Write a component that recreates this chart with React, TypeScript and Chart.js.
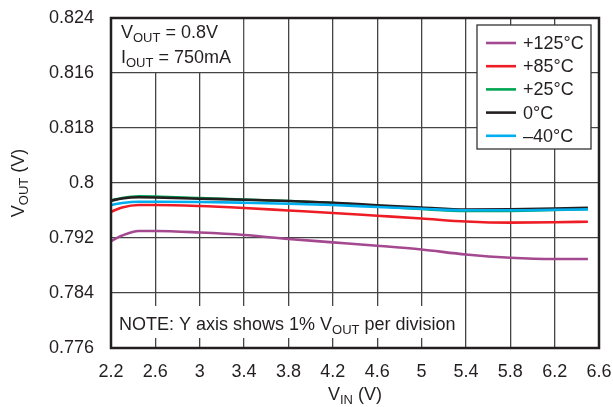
import React, { useEffect, useRef } from "react";
import { Chart, registerables } from "chart.js";

Chart.register(...registerables);

// ---------- data ----------
const vin = [2.2, 2.3, 2.45, 2.6, 3.0, 3.4, 3.8, 4.2, 4.6, 5.0, 5.4, 5.8, 6.2, 6.5];

const vout125 = [0.79156, 0.79236, 0.79302, 0.79302, 0.7928, 0.79244, 0.79185, 0.79137, 0.79088, 0.79033, 0.7896, 0.78913, 0.78895, 0.78895];
const vout85 = [0.79583, 0.79644, 0.7968, 0.7968, 0.79665, 0.79636, 0.796, 0.79564, 0.79524, 0.79484, 0.7944, 0.79423, 0.79428, 0.79437];
const vout25 = [0.79745, 0.79782, 0.79807, 0.79804, 0.79782, 0.7976, 0.79738, 0.7971, 0.79665, 0.79622, 0.79593, 0.79593, 0.79607, 0.79622];
const vout0 = [0.79743, 0.79775, 0.79792, 0.79789, 0.79772, 0.79757, 0.79738, 0.79713, 0.79676, 0.79644, 0.79615, 0.79618, 0.79629, 0.79641];
const voutM40 = [0.7968, 0.79709, 0.79728, 0.79728, 0.79724, 0.79713, 0.79699, 0.7968, 0.79651, 0.79626, 0.79603, 0.79603, 0.79612, 0.79617];

const seriesNames = ["+125°C", "+85°C", "+25°C", "0°C", "\u201340°C"];
const seriesColors = ["#A4488F", "#EE1D25", "#00A551", "#231F20", "#00AEEF"];
const seriesValues = [vout125, vout85, vout25, vout0, voutM40];
const seriesDrawOrder = [4, 3, 2, 1, 0];

const xTickValues = [2.2, 2.6, 3.0, 3.4, 3.8, 4.2, 4.6, 5.0, 5.4, 5.8, 6.2, 6.6];
const xTickLabels = ["2.2", "2.6", "3", "3.4", "3.8", "4.2", "4.6", "5", "5.4", "5.8", "6.2", "6.6"];
const yTickValues = [0.776, 0.784, 0.792, 0.8, 0.808, 0.816, 0.824];
const yTickLabels = ["0.776", "0.784", "0.792", "0.8", "0.818", "0.816", "0.824"];

const FONT = '"Liberation Sans", Arial, Helvetica, sans-serif';
const TEXT_COLOR = "#231F20";
const FS = 18;
const SUB = 13;

type Seg = { t: string; sub?: boolean };

function segWidth(ctx: CanvasRenderingContext2D, segs: Seg[], size: number, subSize: number) {
  let w = 0;
  for (const s of segs) {
    ctx.font = `${s.sub ? subSize : size}px ${FONT}`;
    w += ctx.measureText(s.t).width;
  }
  return w;
}

function drawSegs(ctx: CanvasRenderingContext2D, segs: Seg[], x: number, y: number, size: number, subSize: number, subShift: number) {
  let cx = x;
  ctx.textBaseline = "alphabetic";
  ctx.textAlign = "left";
  for (const s of segs) {
    ctx.font = `${s.sub ? subSize : size}px ${FONT}`;
    ctx.fillText(s.t, cx, s.sub ? y + subShift : y);
    cx += ctx.measureText(s.t).width;
  }
}

const decorPlugin = {
  id: "decor",
  beforeDatasetsDraw(chart: any) {
    const { ctx, chartArea: a, scales } = chart;
    const xs = scales.x;
    const ys = scales.y;
    ctx.save();
    ctx.fillStyle = "#ffffff";
    // top-left annotation box
    {
      const x0 = xs.getPixelForValue(xTickValues[0]);
      const x1 = xs.getPixelForValue(xTickValues[3]);
      const y0 = ys.getPixelForValue(yTickValues[6]);
      const y1 = ys.getPixelForValue(yTickValues[5]);
      ctx.fillRect(x0 + 1, y0 + 1, x1 - x0 - 2, y1 - y0 - 2);
    }
    // note box (leaves short stubs of the grid lines)
    {
      const x0 = xs.getPixelForValue(xTickValues[0]);
      const x1 = xs.getPixelForValue(xTickValues[8]);
      const y0 = ys.getPixelForValue(yTickValues[1]);
      const y1 = ys.getPixelForValue(yTickValues[0]);
      ctx.fillRect(x0 + 1, y0 + 13, x1 - x0 - 2, y1 - y0 - 23);
    }
    // legend box
    const lw = 114, lh = 124;
    const lx = a.right - 8 - lw;
    const ly = a.top + 7;
    ctx.fillRect(lx, ly, lw, lh);
    ctx.strokeStyle = "#333";
    ctx.lineWidth = 1.3;
    ctx.strokeRect(lx, ly, lw, lh);
    ctx.restore();
  },
  afterDatasetsDraw(chart: any) {
    const { ctx, chartArea: a } = chart;
    ctx.save();
    ctx.fillStyle = TEXT_COLOR;

    // annotation text
    const ax = a.left + 10;
    drawSegs(ctx, [{ t: "V" }, { t: "OUT", sub: true }, { t: " = 0.8V" }], ax, a.top + 20, FS, SUB, 4);
    drawSegs(ctx, [{ t: "I" }, { t: "OUT", sub: true }, { t: " = 750mA" }], ax, a.top + 45, FS, SUB, 4);

    // note text
    drawSegs(
      ctx,
      [{ t: "NOTE: Y axis shows 1% V" }, { t: "OUT", sub: true }, { t: " per division" }],
      a.left + 8,
      a.bottom - 18,
      FS,
      SUB,
      4
    );

    // legend entries
    const lw = 114;
    const lx = a.right - 8 - lw;
    const ly = a.top + 7;
    for (let i = 0; i < seriesNames.length; i++) {
      const cy = ly + 18 + i * 23.2;
      ctx.strokeStyle = seriesColors[i];
      ctx.lineWidth = 2.6;
      ctx.beginPath();
      ctx.moveTo(lx + 9, cy);
      ctx.lineTo(lx + 39, cy);
      ctx.stroke();
      ctx.font = `${FS}px ${FONT}`;
      ctx.textBaseline = "middle";
      ctx.textAlign = "left";
      ctx.fillText(seriesNames[i], lx + 46, cy + 1);
    }

    // frame
    ctx.strokeStyle = "#231F20";
    ctx.lineWidth = 2.5;
    ctx.strokeRect(a.left, a.top, a.right - a.left, a.bottom - a.top);

    // axis titles
    const xt: Seg[] = [{ t: "V" }, { t: "IN", sub: true }, { t: " (V)" }];
    const xw = segWidth(ctx, xt, FS, SUB);
    drawSegs(ctx, xt, (a.left + a.right) / 2 - xw / 2, 400, FS, SUB, 4);

    const yt: Seg[] = [{ t: "V" }, { t: "OUT", sub: true }, { t: " (V)" }];
    const yw = segWidth(ctx, yt, FS, SUB);
    ctx.translate(24, (a.top + a.bottom) / 2);
    ctx.rotate(-Math.PI / 2);
    drawSegs(ctx, yt, -yw / 2, 0, FS, SUB, 4);
    ctx.restore();
  },
};

export default function App() {
  const ref = useRef<HTMLCanvasElement | null>(null);

  useEffect(() => {
    if (!ref.current) return;
    const datasets = seriesNames.map((name, i) => ({
      label: name,
      data: vin.map((x, j) => ({ x, y: seriesValues[i][j] })),
      borderColor: seriesColors[i],
      backgroundColor: seriesColors[i],
      borderWidth: 2.6,
      pointRadius: 0,
      cubicInterpolationMode: "monotone" as const,
      order: seriesDrawOrder[i],
    }));

    const chart = new Chart(ref.current, {
      type: "line",
      data: { datasets },
      options: {
        responsive: false,
        animation: false,
        layout: { padding: { top: 18, right: 14, left: 0, bottom: 0 } },
        plugins: { legend: { display: false }, tooltip: { enabled: false } },
        scales: {
          x: {
            type: "linear",
            min: 2.2,
            max: 6.6,
            afterBuildTicks: (s: any) => {
              s.ticks = xTickValues.map((v) => ({ value: v }));
            },
            afterFit: (s: any) => {
              s.height = 59;
              s.paddingLeft = 0;
              s.paddingRight = 0;
            },
            ticks: {
              callback: (_v: any, i: number) => xTickLabels[i],
              font: { size: FS, family: FONT },
              color: TEXT_COLOR,
              padding: 13,
              maxRotation: 0,
              autoSkip: false,
            },
            grid: { color: "#444", lineWidth: 1.3, drawTicks: false },
            border: { display: false },
          },
          y: {
            type: "linear",
            min: 0.776,
            max: 0.824,
            afterBuildTicks: (s: any) => {
              s.ticks = yTickValues.map((v) => ({ value: v }));
            },
            afterFit: (s: any) => {
              s.width = 111;
              s.paddingTop = 0;
              s.paddingBottom = 0;
            },
            ticks: {
              callback: (_v: any, i: number) => yTickLabels[i],
              font: { size: FS, family: FONT },
              color: TEXT_COLOR,
              padding: 17,
              autoSkip: false,
            },
            grid: { color: "#444", lineWidth: 1.3, drawTicks: false },
            border: { display: false },
          },
        },
      },
      plugins: [decorPlugin],
    });
    return () => chart.destroy();
  }, []);

  return (
    <div style={{ position: "fixed", left: 0, top: 0, width: 613, height: 407, background: "#fff" }}>
      <canvas ref={ref} width={613} height={407} style={{ width: 613, height: 407, display: "block" }} />
    </div>
  );
}
